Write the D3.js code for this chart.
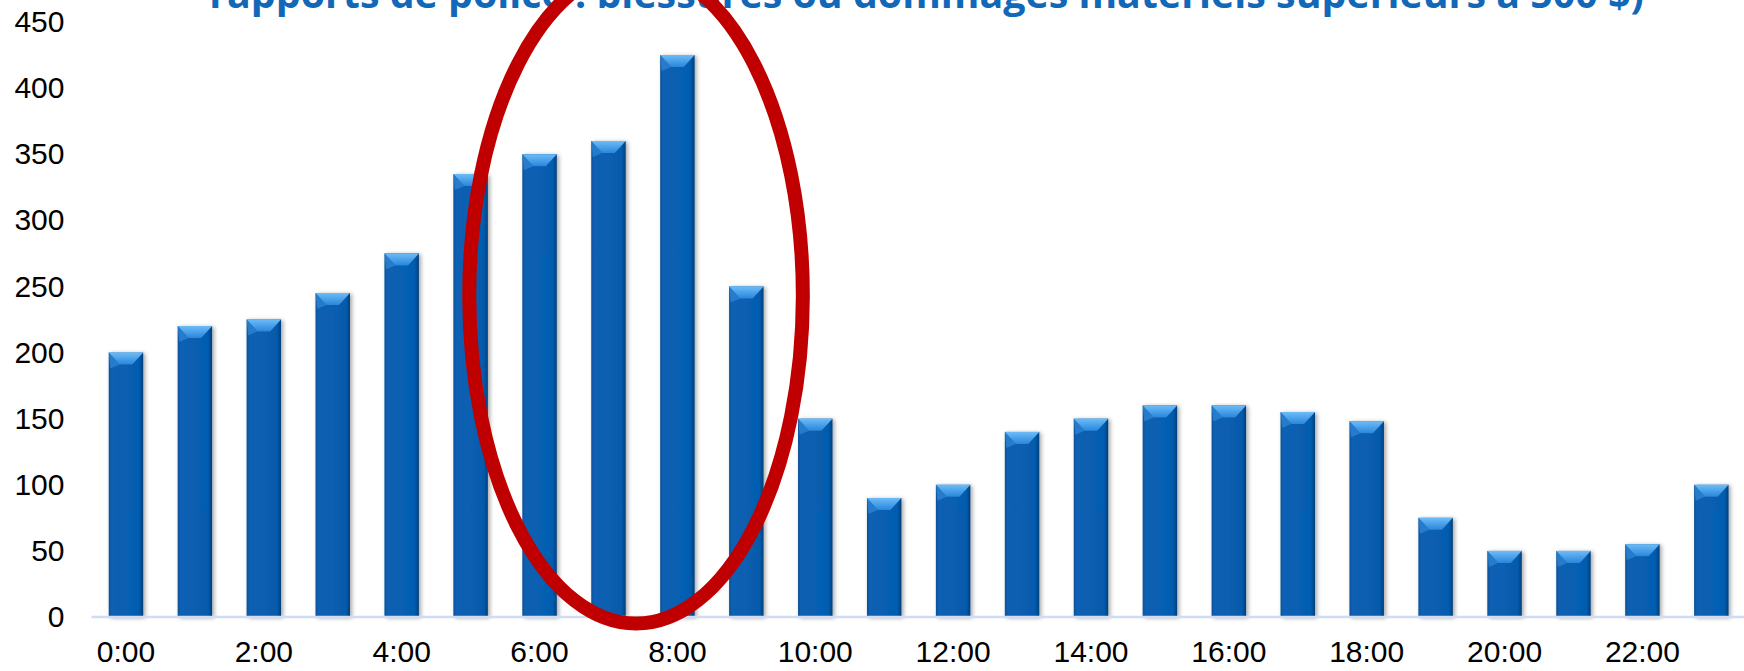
<!DOCTYPE html>
<html>
<head>
<meta charset="utf-8">
<script src="https://cdn.jsdelivr.net/npm/d3@7/dist/d3.min.js"></script>
<style>
  html, body { margin: 0; padding: 0; background: #ffffff; overflow: hidden; }
  svg { display: block; }
</style>
</head>
<body>
<svg id="chart" width="1744" height="671"></svg>
<script>
// ---- Data ----
const hours = ["0:00","1:00","2:00","3:00","4:00","5:00","6:00","7:00","8:00","9:00","10:00","11:00",
               "12:00","13:00","14:00","15:00","16:00","17:00","18:00","19:00","20:00","21:00","22:00","23:00"];
const collisions = [200, 220, 225, 245, 275, 335, 350, 360, 425, 250, 150, 90,
                    100, 140, 150, 160, 160, 155, 148, 75, 50, 50, 55, 100];
const yTicks = [0, 50, 100, 150, 200, 250, 300, 350, 400, 450];
const xTickLabels = ["0:00","2:00","4:00","6:00","8:00","10:00","12:00","14:00","16:00","18:00","20:00","22:00"];
const titleText = "rapports de police : blessures ou dommages matériels supérieurs à 500 $)";
// highlight ellipse in data units: centre hour index, half-width in hours, centre value, half-height in value units
const highlight = { hour: 7.4, halfHours: 2.42, value: 243, halfValue: 248 };

// ---- Layout ----
const svg = d3.select("#chart");
const W = 1744, H = 671;
const x = d3.scaleBand().domain(hours).range([91.5, 1745.8]).paddingInner(0.5).paddingOuter(0.25);
const y = d3.scaleLinear().domain([0, 450]).range([617, 22]);

const defs = svg.append("defs");
const shadow = defs.append("filter").attr("id", "shadow").attr("x", "-30%").attr("y", "-5%").attr("width", "170%").attr("height", "110%");
shadow.append("feDropShadow").attr("dx", 2).attr("dy", 1).attr("stdDeviation", 2.2)
  .attr("flood-color", "#000").attr("flood-opacity", 0.35);

const bodyGrad = defs.append("linearGradient").attr("id", "bodyGrad").attr("x1", 0).attr("x2", 1).attr("y1", 0).attr("y2", 0);
bodyGrad.append("stop").attr("offset", "0%").attr("stop-color", "#0a4f95");
bodyGrad.append("stop").attr("offset", "8%").attr("stop-color", "#0860b3");
bodyGrad.append("stop").attr("offset", "88%").attr("stop-color", "#065cae");
bodyGrad.append("stop").attr("offset", "100%").attr("stop-color", "#063f7a");

const topGrad = defs.append("linearGradient").attr("id", "topGrad").attr("x1", 0).attr("x2", 0).attr("y1", 0).attr("y2", 1);
topGrad.append("stop").attr("offset", "0%").attr("stop-color", "#6cbcf7");
topGrad.append("stop").attr("offset", "100%").attr("stop-color", "#2a86dc");

// ---- Title ----
const title = svg.append("text")
  .attr("x", 926.5).attr("y", 8)
  .attr("text-anchor", "middle")
  .attr("font-family", "'Open Sans', 'Noto Sans', sans-serif")
  .attr("font-weight", "bold")
  .attr("font-size", 34)
  .attr("fill", "#1268b8")
  .text(titleText);
const tw = title.node().getComputedTextLength();
title.attr("font-size", 34 * 1435 / tw);

// ---- Bars ----
const bars = svg.append("g").selectAll("g.bar")
  .data(hours.map((h, i) => ({ h, v: collisions[i] })))
  .join("g").attr("class", "bar").attr("filter", "url(#shadow)");

bars.append("rect")
  .attr("x", d => x(d.h))
  .attr("y", d => y(d.v))
  .attr("width", x.bandwidth())
  .attr("height", d => y(0) - y(d.v))
  .attr("fill", "url(#bodyGrad)");

const bev = 11, bevH = 12;
bars.append("path")
  .attr("d", d => {
    const x0 = x(d.h), w = x.bandwidth(), t = y(d.v);
    return `M${x0},${t}L${x0 + w},${t}L${x0 + w - bev},${t + bevH}L${x0 + bev},${t + bevH}Z`;
  })
  .attr("fill", "url(#topGrad)");
bars.append("path")
  .attr("d", d => {
    const x0 = x(d.h), t = y(d.v);
    return `M${x0},${t}L${x0 + bev},${t + bevH}L${x0 + 1.5},${t + bevH + 4}Z`;
  })
  .attr("fill", "#3a8fdc").attr("opacity", 0.6);

// ---- Axes ----
svg.append("line")
  .attr("x1", x.range()[0]).attr("x2", W)
  .attr("y1", y(0)).attr("y2", y(0))
  .attr("stroke", "#cfdcf2").attr("stroke-width", 2.5);

const yAxis = svg.append("g")
  .attr("transform", `translate(${x.range()[0]},0)`)
  .call(d3.axisLeft(y).tickValues(yTicks).tickSize(0).tickPadding(27));
yAxis.select(".domain").remove();
yAxis.selectAll("text")
  .attr("font-family", "'Liberation Sans', Arial, sans-serif")
  .attr("font-size", 30)
  .attr("fill", "#000");

const xAxis = svg.append("g")
  .attr("transform", `translate(0,${y(0)})`)
  .call(d3.axisBottom(x).tickValues(xTickLabels).tickSize(0).tickPadding(24));
xAxis.select(".domain").remove();
xAxis.selectAll("text")
  .attr("font-family", "'Liberation Sans', Arial, sans-serif")
  .attr("font-size", 30)
  .attr("fill", "#000");

// ---- Highlight ellipse ----
const step = x.step();
const cx = x(hours[0]) + x.bandwidth() / 2 + highlight.hour * step;
svg.append("ellipse")
  .attr("cx", cx)
  .attr("cy", y(highlight.value))
  .attr("rx", highlight.halfHours * step)
  .attr("ry", y(0) - y(highlight.halfValue))
  .attr("fill", "none")
  .attr("stroke", "#c00000")
  .attr("stroke-width", 14);
</script>
</body>
</html>
